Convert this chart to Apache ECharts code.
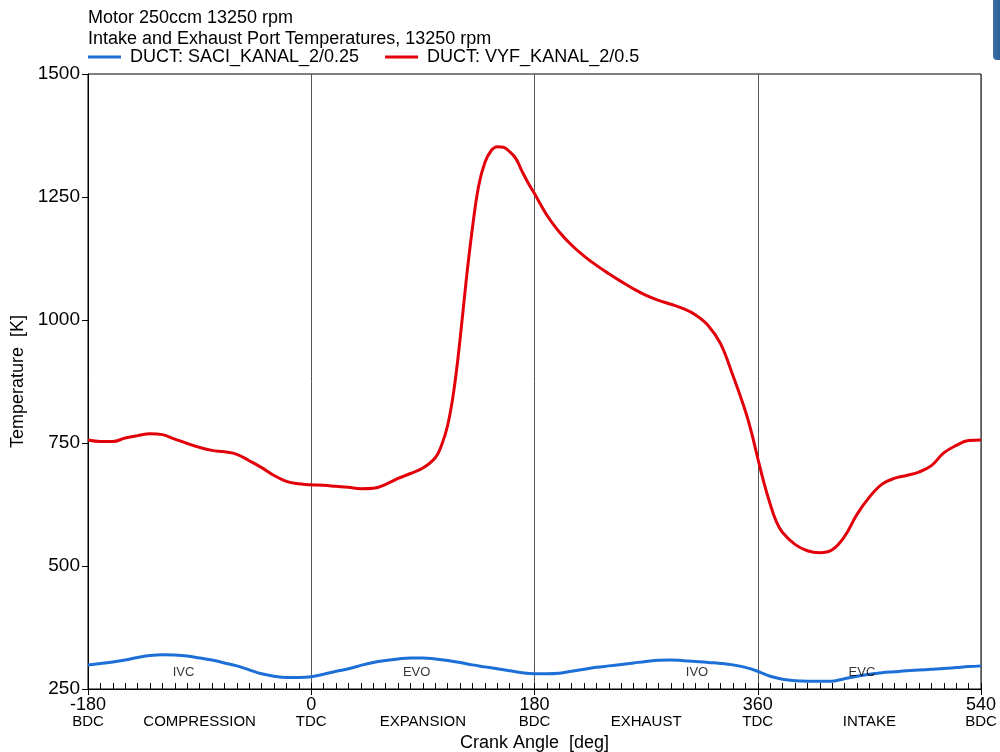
<!DOCTYPE html>
<html>
<head>
<meta charset="utf-8">
<title>Intake and Exhaust Port Temperatures</title>
<script src="https://cdn.jsdelivr.net/npm/echarts@6/dist/echarts.min.js"></script>
<style>
  html, body { margin: 0; padding: 0; background: #fff; }
  #chart { width: 1000px; height: 752px; }
</style>
</head>
<body>
<div id="chart"></div>
<script>
// Exhaust port (VYF_KANAL_2/0.5) temperature, K, against crank angle, deg
const exhaustAngles = [
  -180, -170, -160, -150, -140, -130, -120, -110, -100, -90,
  -80, -70, -60, -50, -40, -30, -20, -10, 0, 10,
  20, 30, 40, 50, 60, 70, 80, 90, 100, 105,
  110, 115, 120, 125, 130, 135, 140, 145, 150, 155,
  160, 165, 170, 175, 180, 190, 200, 210, 220, 230,
  240, 250, 260, 270, 280, 290, 300, 310, 320, 330,
  340, 350, 355, 360, 365, 370, 375, 380, 390, 400,
  410, 420, 430, 440, 450, 460, 470, 480, 490, 500,
  510, 520, 530, 540
];
const exhaustTemps = [
  756, 753, 753, 760, 765, 769, 767, 758, 749, 741,
  735, 732, 727, 714, 700, 684, 672, 667, 665, 664,
  662, 660, 657, 658, 666, 678, 688, 699, 720, 745,
  786, 857, 961, 1082, 1188, 1273, 1320, 1344, 1352, 1351,
  1342, 1328, 1302, 1278, 1257, 1213, 1179, 1152, 1130, 1111,
  1094, 1078, 1063, 1050, 1040, 1032, 1023, 1010, 989, 952,
  887, 815, 771, 719, 669, 626, 590, 568, 544, 531,
  527, 533, 560, 605, 640, 666, 678, 684, 691, 704,
  730, 745, 755, 756
];

// Intake port (SACI_KANAL_2/0.25) temperature, K, every 10 deg
const intakeAngles = [
  -180, -170, -160, -150, -140, -130, -120, -110, -100, -90,
  -80, -70, -60, -50, -40, -30, -20, -10, 0, 10,
  20, 30, 40, 50, 60, 70, 80, 90, 100, 110,
  120, 130, 140, 150, 160, 170, 180, 190, 200, 210,
  220, 230, 240, 250, 260, 270, 280, 290, 300, 310,
  320, 330, 340, 350, 360, 370, 380, 390, 400, 410,
  420, 430, 440, 450, 460, 470, 480, 490, 500, 510,
  520, 530, 540
];
const intakeTemps = [
  299, 302, 305, 309, 314, 318, 319.5, 319, 317, 313,
  309, 303, 297, 289, 281, 276, 273.5, 273.5, 275, 280,
  286, 291, 298, 304, 308, 311, 313, 313, 311, 308,
  304, 299, 295, 291, 287, 283, 281, 281, 282, 286,
  290, 294, 297, 300, 303, 306, 308.5, 309, 307.5, 306,
  304, 302, 299, 294, 286, 276, 270, 267, 266, 266,
  266, 271, 276, 280, 283, 285, 287, 288.5, 290, 291.5,
  293.5, 295.5, 297
];

// Crank-angle axis labels
const strokeTickAngles = [-180, 0, 180, 360, 540];
const strokeTickNames = ['BDC', 'TDC', 'BDC', 'TDC', 'BDC'];
const strokePhaseAngles = [-90, 90, 270, 450];
const strokePhaseNames = ['COMPRESSION', 'EXPANSION', 'EXHAUST', 'INTAKE'];

// Valve events
const valveEventAngles = [-103, 85, 311, 444];
const valveEventNames = ['IVC', 'EVO', 'IVO', 'EVC'];
const valveEventLabelTemp = 284;

const seriesNames = ['DUCT: SACI_KANAL_2/0.25', 'DUCT: VYF_KANAL_2/0.5'];

const FONT = '"Liberation Sans", Arial, Helvetica, sans-serif';
const BLUE = '#1c6fd6';
const RED = '#e2000b';

const pairs = (xs, ys) => xs.map((x, i) => [x, ys[i]]);

const chart = echarts.init(document.getElementById('chart'), null, { renderer: 'canvas' });

chart.setOption({
  animation: false,
  backgroundColor: '#fff',
  textStyle: { fontFamily: FONT, color: '#000' },
  title: {
    text: 'Motor 250ccm 13250 rpm\nIntake and Exhaust Port Temperatures, 13250 rpm',
    left: 88,
    top: 8,
    padding: 0,
    textStyle: { fontFamily: FONT, fontSize: 18, fontWeight: 'normal', color: '#000', lineHeight: 21 }
  },
  legend: {
    left: 88,
    top: 48,
    padding: 0,
    itemGap: 26,
    itemWidth: 33,
    itemHeight: 3,
    icon: 'rect',
    data: seriesNames,
    textStyle: { fontFamily: FONT, fontSize: 18, color: '#000', padding: [0, 0, 0, 4] }
  },
  grid: {
    left: 88, right: 19, top: 74, bottom: 63,
    outerBoundsMode: 'none',
    containLabel: false,
    show: true, borderColor: '#000', borderWidth: 1, backgroundColor: '#fff'
  },
  xAxis: [
    {
      type: 'value', position: 'bottom',
      min: -180, max: 540, interval: 180,
      name: 'Crank Angle  [deg]', nameLocation: 'middle', nameGap: 42,
      nameTextStyle: { fontFamily: FONT, fontSize: 18, color: '#000' },
      axisLine: { onZero: false, lineStyle: { color: '#000', width: 1 } },
      axisTick: { show: true, inside: false, length: 6, lineStyle: { color: '#000' } },
      splitLine: { show: true, lineStyle: { color: '#555', width: 1 } },
      axisLabel: {
        margin: 8, showMinLabel: true, showMaxLabel: true, color: '#000',
        formatter: v => {
          const i = strokeTickAngles.indexOf(v);
          return '{n|' + v + '}\n{s|' + (i >= 0 ? strokeTickNames[i] : '') + '}';
        },
        rich: {
          n: { fontFamily: FONT, fontSize: 18, lineHeight: 17, color: '#000' },
          s: { fontFamily: FONT, fontSize: 15, lineHeight: 15, color: '#000' }
        }
      }
    },
    {
      type: 'value', position: 'bottom',
      min: -180, max: 540, interval: 10,
      axisLine: { show: false, onZero: false },
      axisTick: { show: true, inside: true, length: 6, lineStyle: { color: '#000' } },
      splitLine: { show: false },
      axisLabel: {
        margin: 25, showMinLabel: true, showMaxLabel: true,
        fontFamily: FONT, fontSize: 15, color: '#000',
        formatter: v => {
          const i = strokePhaseAngles.indexOf(v);
          return i >= 0 ? strokePhaseNames[i] : '';
        }
      }
    }
  ],
  yAxis: {
    type: 'value', position: 'left',
    min: 250, max: 1500, interval: 250,
    name: 'Temperature  [K]', nameLocation: 'middle', nameGap: 55,
    nameTextStyle: { fontFamily: FONT, fontSize: 18, color: '#000' },
    axisLine: { show: true, onZero: false, lineStyle: { color: '#000', width: 1 } },
    axisTick: { show: true, inside: false, length: 6, lineStyle: { color: '#000' } },
    splitLine: { show: false },
    axisLabel: { margin: 8, fontFamily: FONT, fontSize: 19, color: '#000', formatter: v => String(v) }
  },
  series: [
    {
      name: seriesNames[0],
      type: 'line',
      xAxisIndex: 0,
      data: pairs(intakeAngles, intakeTemps),
      showSymbol: false,
      smooth: 0.4,
      color: BLUE,
      lineStyle: { color: BLUE, width: 3 },
      z: 3
    },
    {
      name: seriesNames[1],
      type: 'line',
      xAxisIndex: 0,
      data: pairs(exhaustAngles, exhaustTemps),
      showSymbol: false,
      smooth: 0.4,
      color: RED,
      lineStyle: { color: RED, width: 3 },
      z: 3
    },
    {
      name: 'valve events',
      type: 'scatter',
      xAxisIndex: 0,
      data: valveEventAngles.map((a, i) => ({ value: [a, valveEventLabelTemp], name: valveEventNames[i] })),
      symbolSize: 0,
      silent: true,
      label: {
        show: true, position: 'inside', formatter: p => p.name,
        fontFamily: FONT, fontSize: 13, color: '#000'
      },
      z: 4
    }
  ],
  graphic: [
    {
      type: 'rect',
      shape: { x: 993, y: -6, width: 14, height: 66, r: 4 },
      style: {
        fill: new echarts.graphic.LinearGradient(0, 0, 1, 0, [
          { offset: 0, color: '#3a6fa8' }, { offset: 1, color: '#1f4f86' }
        ])
      },
      silent: true
    }
  ]
});
</script>
</body>
</html>
